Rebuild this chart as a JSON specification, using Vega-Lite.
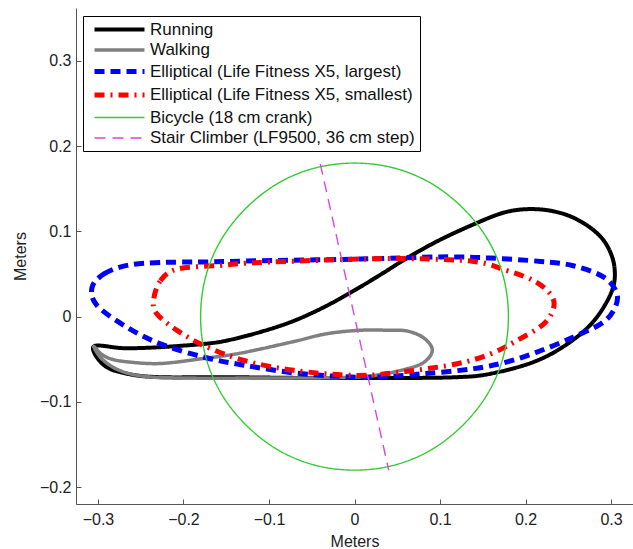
{
  "$schema": "https://vega.github.io/schema/vega-lite/v6.json",
  "width": 557,
  "height": 496,
  "autosize": {"type": "none"},
  "padding": {"left": 76, "top": 8, "right": 0, "bottom": 45},
  "config": {
    "view": {"stroke": null},
    "font": "Liberation Sans",
    "axis": {
      "domainColor": "#555555",
      "tickColor": "#555555",
      "tickSize": -5,
      "labelFontSize": 16,
      "labelColor": "#222222",
      "labelFont": "Liberation Sans",
      "titleFont": "Liberation Sans",
      "titleFontSize": 16,
      "titleFontWeight": "normal",
      "titleColor": "#222222",
      "grid": false
    },
    "legend": {
      "title": null,
      "orient": "none",
      "legendX": 7,
      "legendY": 8,
      "strokeColor": "#000000",
      "fillColor": "#ffffff",
      "padding": 5,
      "symbolType": "M-5,0H5",
      "symbolSize": 100,
      "symbolOffset": 23,
      "labelOffset": 22,
      "rowPadding": 2.5,
      "labelFontSize": 17,
      "labelFont": "Liberation Sans",
      "labelColor": "#111111",
      "labelLimit": 500
    }
  },
  "datasets": {
    "loops": [
      {"s": "Running", "i": 0, "x": -0.305, "y": -0.035},
      {"s": "Running", "i": 1, "x": -0.27, "y": -0.037},
      {"s": "Running", "i": 2, "x": -0.23, "y": -0.036},
      {"s": "Running", "i": 3, "x": -0.176, "y": -0.032},
      {"s": "Running", "i": 4, "x": -0.149, "y": -0.028},
      {"s": "Running", "i": 5, "x": -0.11, "y": -0.018},
      {"s": "Running", "i": 6, "x": -0.071, "y": -0.005},
      {"s": "Running", "i": 7, "x": -0.032, "y": 0.013},
      {"s": "Running", "i": 8, "x": 0.007, "y": 0.035},
      {"s": "Running", "i": 9, "x": 0.035, "y": 0.052},
      {"s": "Running", "i": 10, "x": 0.062, "y": 0.069},
      {"s": "Running", "i": 11, "x": 0.1, "y": 0.09},
      {"s": "Running", "i": 12, "x": 0.1435, "y": 0.11},
      {"s": "Running", "i": 13, "x": 0.175, "y": 0.122},
      {"s": "Running", "i": 14, "x": 0.202, "y": 0.126},
      {"s": "Running", "i": 15, "x": 0.23, "y": 0.124},
      {"s": "Running", "i": 16, "x": 0.256, "y": 0.116},
      {"s": "Running", "i": 17, "x": 0.28, "y": 0.101},
      {"s": "Running", "i": 18, "x": 0.2955, "y": 0.083},
      {"s": "Running", "i": 19, "x": 0.304, "y": 0.058},
      {"s": "Running", "i": 20, "x": 0.301, "y": 0.03},
      {"s": "Running", "i": 21, "x": 0.28, "y": -0.005},
      {"s": "Running", "i": 22, "x": 0.249, "y": -0.032},
      {"s": "Running", "i": 23, "x": 0.21, "y": -0.053},
      {"s": "Running", "i": 24, "x": 0.159, "y": -0.067},
      {"s": "Running", "i": 25, "x": 0.12, "y": -0.071},
      {"s": "Running", "i": 26, "x": 0.05, "y": -0.072},
      {"s": "Running", "i": 27, "x": -0.05, "y": -0.072},
      {"s": "Running", "i": 28, "x": -0.15, "y": -0.071},
      {"s": "Running", "i": 29, "x": -0.227, "y": -0.071},
      {"s": "Running", "i": 30, "x": -0.266, "y": -0.067},
      {"s": "Running", "i": 31, "x": -0.293, "y": -0.057},

      {"s": "Walking", "i": 0, "x": -0.305, "y": -0.035},
      {"s": "Walking", "i": 1, "x": -0.296, "y": -0.044},
      {"s": "Walking", "i": 2, "x": -0.285, "y": -0.0495},
      {"s": "Walking", "i": 3, "x": -0.266, "y": -0.053},
      {"s": "Walking", "i": 4, "x": -0.227, "y": -0.055},
      {"s": "Walking", "i": 5, "x": -0.176, "y": -0.049},
      {"s": "Walking", "i": 6, "x": -0.14, "y": -0.044},
      {"s": "Walking", "i": 7, "x": -0.11, "y": -0.038},
      {"s": "Walking", "i": 8, "x": -0.07, "y": -0.029},
      {"s": "Walking", "i": 9, "x": -0.032, "y": -0.02},
      {"s": "Walking", "i": 10, "x": 0.007, "y": -0.016},
      {"s": "Walking", "i": 11, "x": 0.04, "y": -0.016},
      {"s": "Walking", "i": 12, "x": 0.062, "y": -0.017},
      {"s": "Walking", "i": 13, "x": 0.081, "y": -0.025},
      {"s": "Walking", "i": 14, "x": 0.091, "y": -0.039},
      {"s": "Walking", "i": 15, "x": 0.082, "y": -0.053},
      {"s": "Walking", "i": 16, "x": 0.062, "y": -0.061},
      {"s": "Walking", "i": 17, "x": 0.023, "y": -0.069},
      {"s": "Walking", "i": 18, "x": -0.016, "y": -0.0715},
      {"s": "Walking", "i": 19, "x": -0.1, "y": -0.072},
      {"s": "Walking", "i": 20, "x": -0.2, "y": -0.072},
      {"s": "Walking", "i": 21, "x": -0.246, "y": -0.07},
      {"s": "Walking", "i": 22, "x": -0.275, "y": -0.063},
      {"s": "Walking", "i": 23, "x": -0.295, "y": -0.05},

      {"s": "Elliptical (Life Fitness X5, largest)", "i": 0, "x": -0.307, "y": 0.034},
      {"s": "Elliptical (Life Fitness X5, largest)", "i": 1, "x": -0.293, "y": 0.05},
      {"s": "Elliptical (Life Fitness X5, largest)", "i": 2, "x": -0.266, "y": 0.06},
      {"s": "Elliptical (Life Fitness X5, largest)", "i": 3, "x": -0.227, "y": 0.0635},
      {"s": "Elliptical (Life Fitness X5, largest)", "i": 4, "x": -0.176, "y": 0.064},
      {"s": "Elliptical (Life Fitness X5, largest)", "i": 5, "x": -0.11, "y": 0.0655},
      {"s": "Elliptical (Life Fitness X5, largest)", "i": 6, "x": 0.007, "y": 0.0675},
      {"s": "Elliptical (Life Fitness X5, largest)", "i": 7, "x": 0.1006, "y": 0.07},
      {"s": "Elliptical (Life Fitness X5, largest)", "i": 8, "x": 0.159, "y": 0.0686},
      {"s": "Elliptical (Life Fitness X5, largest)", "i": 9, "x": 0.2175, "y": 0.0647},
      {"s": "Elliptical (Life Fitness X5, largest)", "i": 10, "x": 0.256, "y": 0.0596},
      {"s": "Elliptical (Life Fitness X5, largest)", "i": 11, "x": 0.292, "y": 0.046},
      {"s": "Elliptical (Life Fitness X5, largest)", "i": 12, "x": 0.307, "y": 0.0265},
      {"s": "Elliptical (Life Fitness X5, largest)", "i": 13, "x": 0.303, "y": 0.007},
      {"s": "Elliptical (Life Fitness X5, largest)", "i": 14, "x": 0.288, "y": -0.0085},
      {"s": "Elliptical (Life Fitness X5, largest)", "i": 15, "x": 0.256, "y": -0.024},
      {"s": "Elliptical (Life Fitness X5, largest)", "i": 16, "x": 0.2175, "y": -0.04},
      {"s": "Elliptical (Life Fitness X5, largest)", "i": 17, "x": 0.1786, "y": -0.053},
      {"s": "Elliptical (Life Fitness X5, largest)", "i": 18, "x": 0.1396, "y": -0.061},
      {"s": "Elliptical (Life Fitness X5, largest)", "i": 19, "x": 0.081, "y": -0.067},
      {"s": "Elliptical (Life Fitness X5, largest)", "i": 20, "x": 0.023, "y": -0.071},
      {"s": "Elliptical (Life Fitness X5, largest)", "i": 21, "x": -0.02, "y": -0.07},
      {"s": "Elliptical (Life Fitness X5, largest)", "i": 22, "x": -0.071, "y": -0.066},
      {"s": "Elliptical (Life Fitness X5, largest)", "i": 23, "x": -0.129, "y": -0.057},
      {"s": "Elliptical (Life Fitness X5, largest)", "i": 24, "x": -0.176, "y": -0.0476},
      {"s": "Elliptical (Life Fitness X5, largest)", "i": 25, "x": -0.227, "y": -0.032},
      {"s": "Elliptical (Life Fitness X5, largest)", "i": 26, "x": -0.266, "y": -0.0125},
      {"s": "Elliptical (Life Fitness X5, largest)", "i": 27, "x": -0.301, "y": 0.0129},

      {"s": "Elliptical (Life Fitness X5, smallest)", "i": 0, "x": -0.235, "y": 0.019},
      {"s": "Elliptical (Life Fitness X5, smallest)", "i": 1, "x": -0.227, "y": 0.042},
      {"s": "Elliptical (Life Fitness X5, smallest)", "i": 2, "x": -0.207, "y": 0.0558},
      {"s": "Elliptical (Life Fitness X5, smallest)", "i": 3, "x": -0.157, "y": 0.06},
      {"s": "Elliptical (Life Fitness X5, smallest)", "i": 4, "x": -0.11, "y": 0.0635},
      {"s": "Elliptical (Life Fitness X5, smallest)", "i": 5, "x": 0.007, "y": 0.0675},
      {"s": "Elliptical (Life Fitness X5, smallest)", "i": 6, "x": 0.062, "y": 0.068},
      {"s": "Elliptical (Life Fitness X5, smallest)", "i": 7, "x": 0.1396, "y": 0.0647},
      {"s": "Elliptical (Life Fitness X5, smallest)", "i": 8, "x": 0.1786, "y": 0.0538},
      {"s": "Elliptical (Life Fitness X5, smallest)", "i": 9, "x": 0.2097, "y": 0.042},
      {"s": "Elliptical (Life Fitness X5, smallest)", "i": 10, "x": 0.229, "y": 0.0265},
      {"s": "Elliptical (Life Fitness X5, smallest)", "i": 11, "x": 0.233, "y": 0.011},
      {"s": "Elliptical (Life Fitness X5, smallest)", "i": 12, "x": 0.2214, "y": -0.0085},
      {"s": "Elliptical (Life Fitness X5, smallest)", "i": 13, "x": 0.19, "y": -0.028},
      {"s": "Elliptical (Life Fitness X5, smallest)", "i": 14, "x": 0.159, "y": -0.0437},
      {"s": "Elliptical (Life Fitness X5, smallest)", "i": 15, "x": 0.12, "y": -0.0553},
      {"s": "Elliptical (Life Fitness X5, smallest)", "i": 16, "x": 0.062, "y": -0.064},
      {"s": "Elliptical (Life Fitness X5, smallest)", "i": 17, "x": 0.003, "y": -0.069},
      {"s": "Elliptical (Life Fitness X5, smallest)", "i": 18, "x": -0.071, "y": -0.063},
      {"s": "Elliptical (Life Fitness X5, smallest)", "i": 19, "x": -0.129, "y": -0.0515},
      {"s": "Elliptical (Life Fitness X5, smallest)", "i": 20, "x": -0.176, "y": -0.034},
      {"s": "Elliptical (Life Fitness X5, smallest)", "i": 21, "x": -0.207, "y": -0.0164},
      {"s": "Elliptical (Life Fitness X5, smallest)", "i": 22, "x": -0.231, "y": 0.003},

      {"s": "Bicycle (18 cm crank)", "i": 0, "x": 0.18, "y": 0},
      {"s": "Bicycle (18 cm crank)", "i": 1, "x": 0.174, "y": 0.047},
      {"s": "Bicycle (18 cm crank)", "i": 2, "x": 0.156, "y": 0.09},
      {"s": "Bicycle (18 cm crank)", "i": 3, "x": 0.127, "y": 0.127},
      {"s": "Bicycle (18 cm crank)", "i": 4, "x": 0.09, "y": 0.156},
      {"s": "Bicycle (18 cm crank)", "i": 5, "x": 0.047, "y": 0.174},
      {"s": "Bicycle (18 cm crank)", "i": 6, "x": 0, "y": 0.18},
      {"s": "Bicycle (18 cm crank)", "i": 7, "x": -0.047, "y": 0.174},
      {"s": "Bicycle (18 cm crank)", "i": 8, "x": -0.09, "y": 0.156},
      {"s": "Bicycle (18 cm crank)", "i": 9, "x": -0.127, "y": 0.127},
      {"s": "Bicycle (18 cm crank)", "i": 10, "x": -0.156, "y": 0.09},
      {"s": "Bicycle (18 cm crank)", "i": 11, "x": -0.174, "y": 0.047},
      {"s": "Bicycle (18 cm crank)", "i": 12, "x": -0.18, "y": 0},
      {"s": "Bicycle (18 cm crank)", "i": 13, "x": -0.174, "y": -0.047},
      {"s": "Bicycle (18 cm crank)", "i": 14, "x": -0.156, "y": -0.09},
      {"s": "Bicycle (18 cm crank)", "i": 15, "x": -0.127, "y": -0.127},
      {"s": "Bicycle (18 cm crank)", "i": 16, "x": -0.09, "y": -0.156},
      {"s": "Bicycle (18 cm crank)", "i": 17, "x": -0.047, "y": -0.174},
      {"s": "Bicycle (18 cm crank)", "i": 18, "x": 0, "y": -0.18},
      {"s": "Bicycle (18 cm crank)", "i": 19, "x": 0.047, "y": -0.174},
      {"s": "Bicycle (18 cm crank)", "i": 20, "x": 0.09, "y": -0.156},
      {"s": "Bicycle (18 cm crank)", "i": 21, "x": 0.127, "y": -0.127},
      {"s": "Bicycle (18 cm crank)", "i": 22, "x": 0.156, "y": -0.09},
      {"s": "Bicycle (18 cm crank)", "i": 23, "x": 0.174, "y": -0.047}
    ],
    "stair": [
      {"s": "Stair Climber (LF9500, 36 cm step)", "i": 0, "x": -0.04, "y": 0.179},
      {"s": "Stair Climber (LF9500, 36 cm step)", "i": 1, "x": 0, "y": 0},
      {"s": "Stair Climber (LF9500, 36 cm step)", "i": 2, "x": 0.04, "y": -0.18}
    ]
  },
  "encoding": {
    "x": {
      "field": "x", "type": "quantitative",
      "scale": {"domain": [-0.3257, 0.3257], "nice": false, "zero": false},
      "axis": {"values": [-0.3, -0.2, -0.1, 0, 0.1, 0.2, 0.3], "format": ".1~f", "title": "Meters", "labelPadding": 12, "titlePadding": 6}
    },
    "y": {
      "field": "y", "type": "quantitative",
      "scale": {"domain": [-0.2197, 0.3618], "nice": false, "zero": false},
      "axis": {"values": [-0.2, -0.1, 0, 0.1, 0.2, 0.3], "format": ".1~f", "title": "Meters", "labelPadding": 10, "titlePadding": 10.5}
    },
    "order": {"field": "i", "type": "quantitative"},
    "color": {
      "field": "s", "type": "nominal",
      "scale": {
        "domain": ["Running", "Walking", "Elliptical (Life Fitness X5, largest)", "Elliptical (Life Fitness X5, smallest)", "Bicycle (18 cm crank)", "Stair Climber (LF9500, 36 cm step)"],
        "range": ["#000000", "#808080", "#0000ff", "#ff0000", "#33cc33", "#dd44dd"]
      }
    },
    "strokeDash": {
      "field": "s", "type": "nominal",
      "scale": {
        "domain": ["Running", "Walking", "Elliptical (Life Fitness X5, largest)", "Elliptical (Life Fitness X5, smallest)", "Bicycle (18 cm crank)", "Stair Climber (LF9500, 36 cm step)"],
        "range": [[1, 0], [1, 0], [10, 6], [10, 6, 2, 6], [1, 0], [11, 7]]
      }
    },
    "strokeWidth": {
      "field": "s", "type": "nominal",
      "scale": {
        "type": "ordinal",
        "domain": ["Running", "Walking", "Elliptical (Life Fitness X5, largest)", "Elliptical (Life Fitness X5, smallest)", "Bicycle (18 cm crank)", "Stair Climber (LF9500, 36 cm step)"],
        "range": [4, 3.5, 5, 5, 1.4, 1.4]
      }
    }
  },
  "layer": [
    {"data": {"name": "loops"}, "mark": {"type": "line", "interpolate": "cardinal-closed", "clip": true}},
    {"data": {"name": "stair"}, "mark": {"type": "line", "clip": true}}
  ]
}
